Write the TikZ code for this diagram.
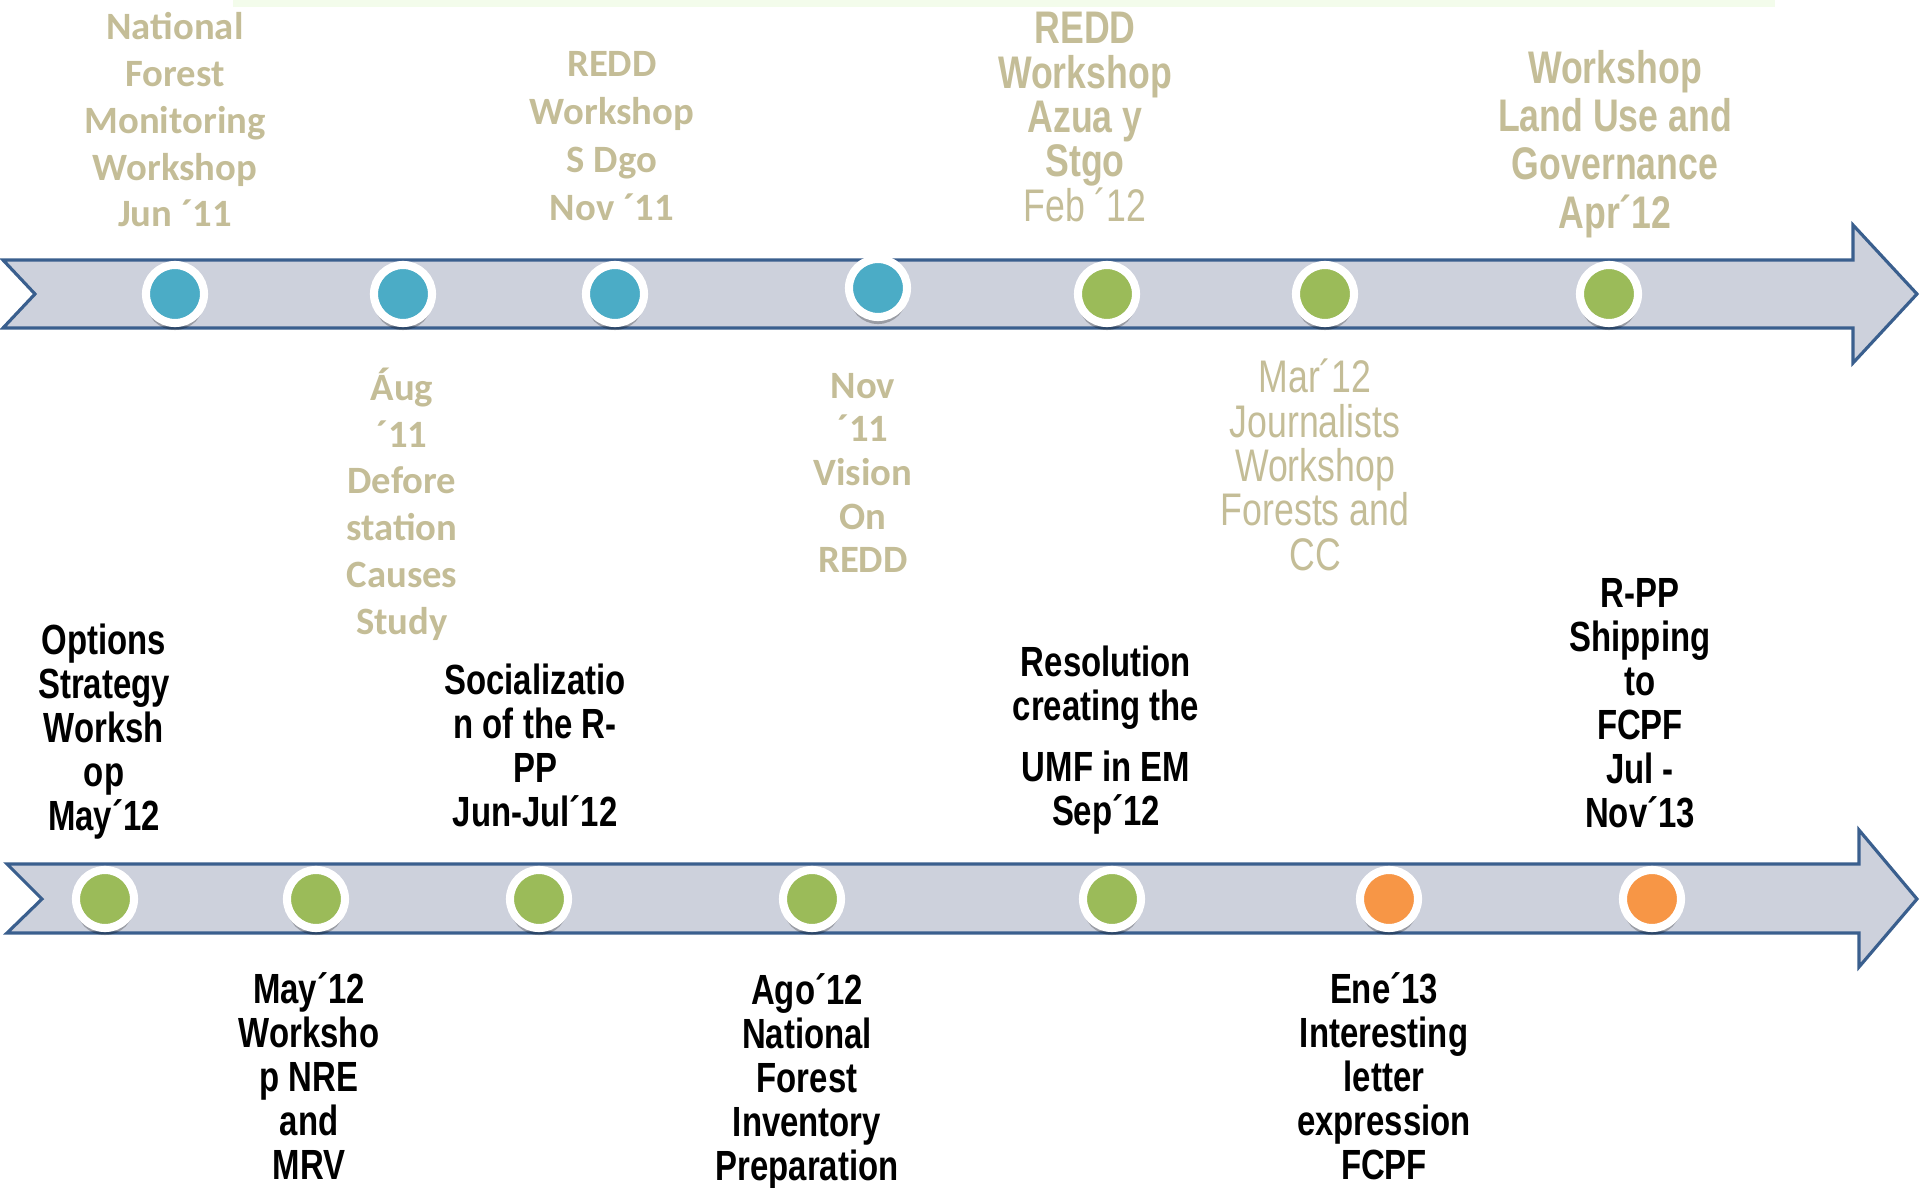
\documentclass[tikz,border=0pt]{standalone}
\usepackage{fontspec}
\setmainfont{Carlito}
\newfontfamily\narrowsans[FakeStretch=0.78]{Liberation Sans}
\usetikzlibrary{shadows}
\definecolor{tanlabel}{HTML}{C4BD97}
\definecolor{bandfill}{HTML}{CDD1DC}
\definecolor{bandline}{HTML}{3A5F8E}
\definecolor{pastblue}{HTML}{4BACC6}
\definecolor{donegreen}{HTML}{9BBB59}
\definecolor{planorange}{HTML}{F79646}
\definecolor{paleband}{HTML}{F3FCEB}

\tikzset{
  band/.style={fill=bandfill, draw=bandline, line width=0.9pt, line join=miter},
  event/.style={circle, draw=white, line width=2.3pt, minimum size=0.58cm, inner sep=0pt,
    drop shadow={shadow xshift=0pt, shadow yshift=-2pt, opacity=0.25, fill=black}},
  past/.style={event, fill=pastblue},
  done/.style={event, fill=donegreen},
  planned/.style={event, fill=planorange},
  oldnote/.style={text=tanlabel, align=center, font=\bfseries\fontsize{11}{13.3}\selectfont},
  tannote/.style={text=tanlabel, align=center, font=\narrowsans\bfseries\fontsize{13}{12.6}\selectfont},
  blacknote/.style={text=black, align=center, font=\narrowsans\bfseries\fontsize{12}{12.5}\selectfont}
}

\begin{document}
\begin{tikzpicture}[x=0.01cm,y=-0.01cm]
  \useasboundingbox (0,0) rectangle (1920,1188);
  \fill[paleband] (233,0) rectangle (1775,7);

  % time bands
  \draw[band] (3,260) -- (1853,260) -- (1853,225) -- (1917,294) -- (1853,363)
    -- (1853,328) -- (3,328) -- (35,294) -- cycle;
  \draw[band] (7,864) -- (1859,864) -- (1859,830) -- (1917,899) -- (1859,967)
    -- (1859,933) -- (7,933) -- (42,899) -- cycle;

  % milestones, first band
  \node[past] (a1) at (175,294) {};
  \node[past] (a2) at (403,294) {};
  \node[past] (a3) at (615,294) {};
  \node[past] (a4) at (878,288) {};
  \node[done] (a5) at (1107,294) {};
  \node[done] (a6) at (1325,294) {};
  \node[done] (a7) at (1609,294) {};

  % milestones, second band
  \node[done] (b1) at (105,899) {};
  \node[done] (b2) at (316,899) {};
  \node[done] (b3) at (539,899) {};
  \node[done] (b4) at (812,899) {};
  \node[done] (b5) at (1112,899) {};
  \node[planned] (b6) at (1389,899) {};
  \node[planned] (b7) at (1652,899) {};

  % labels over the first band
  \node[oldnote] at (175,120) (nfm) {National\\Forest\\Monitoring\\Workshop\\Jun ´11};
  \node[oldnote, font=\bfseries\fontsize{11}{13.6}\selectfont] at (612,136) (reddsd) {REDD\\Workshop\\S Dgo\\Nov ´11};
  \node[tannote] at (1085,117) (reddaz) {REDD\\Workshop\\Azua y\\Stgo\\\mdseries Feb ´12};
  \node[tannote, font=\narrowsans\bfseries\fontsize{13}{13.7}\selectfont] at (1615,144) (landuse) {Workshop\\Land Use and\\Governance\\Apr´12};

  % labels under the first band
  \node[oldnote] at (402,504) (defor) {Áug\\´11\\Defore\\station\\Causes\\Study};
  \node[oldnote, font=\bfseries\fontsize{11}{12.4}\selectfont] at (863,473) (vision) {Nov\\´11\\Vision\\On\\REDD};
  \node[tannote, font=\narrowsans\fontsize{13}{12.6}\selectfont] at (1315,465) (journ) {Mar´12\\Journalists\\Workshop\\Forests and\\CC};

  % labels over the second band
  \node[blacknote] at (104,732) (options) {Options\\Strategy\\Worksh\\op\\May´12};
  \node[blacknote] at (535,745) (social) {Socializatio\\n of the R-\\PP\\Jun-Jul´12};
  \node[blacknote] at (1106,740) (umf) {Resolution\\creating the\\[5pt]UMF in EM\\Sep´12};
  \node[blacknote] at (1640,703) (rpp) {R-PP\\Shipping\\to\\FCPF\\Jul -\\Nov´13};

  % labels under the second band
  \node[blacknote] at (309,1076) (nre) {May´12\\Worksho\\p NRE\\and\\MRV};
  \node[blacknote] at (807,1081) (inventory) {Ago´12\\National\\Forest\\Inventory\\Preparation};
  \node[blacknote] at (1384,1076) (letter) {Ene´13\\Interesting\\letter\\expression\\FCPF};
\end{tikzpicture}
\end{document}
